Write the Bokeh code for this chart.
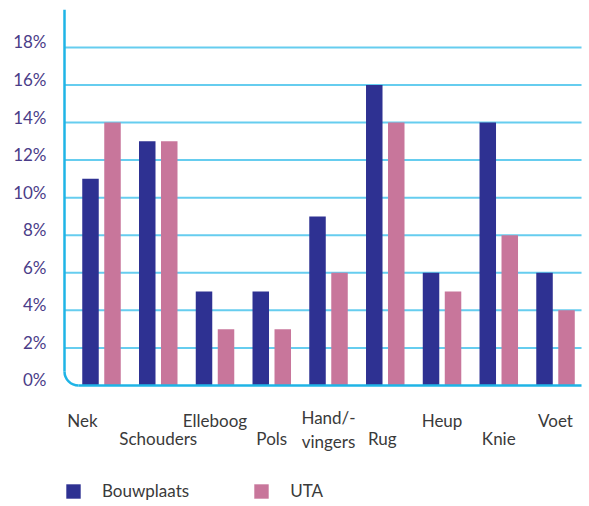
import math
from bokeh.plotting import figure
from bokeh.models import (ColumnDataSource, Range1d, FixedTicker, Legend, LegendItem,
                          CustomJSTickFormatter)
from bokeh.core.properties import value
from bokeh.transform import dodge
from bokeh.embed import file_html
from bokeh.resources import INLINE

# ---- data ----
categories = ["Nek", "Schouders", "Elleboog", "Pols", "Hand/-\nvingers", "Rug", "Heup", "Knie", "Voet"]
bouwplaats = [11, 13, 5, 5, 9, 16, 6, 14, 6]
uta = [14, 13, 3, 3, 6, 14, 5, 8, 4]
y_ticks = [0, 2, 4, 6, 8, 10, 12, 14, 16, 18]
series_names = ["Bouwplaats", "UTA"]

BLUE = "#2e3192"
PINK = "#c8769b"
AXIS = "#1fb4e6"
GRID = "#66cdef"
TICK_TXT = "#4a3c88"
LBL_TXT = "#3a3a3a"
FONT = "Lato"

PX_X = 56.75   # pixels per category
PX_Y = 18.78   # pixels per percent

Y0, Y1 = -6.443, 20.07
p = figure(width=589, height=506, output_backend="svg", toolbar_location=None,
           x_range=Range1d(-0.7225, 8.493), y_range=Range1d(Y0, Y1),
           min_border_left=60, min_border_right=6, min_border_top=8, min_border_bottom=0,
           outline_line_color=None)
p.xaxis.visible = False
p.xgrid.visible = False
p.ygrid.visible = False

# tick labels sit slightly above their gridlines
lift = 5.5 / PX_Y
p.extra_y_ranges = {"lab": Range1d(Y0 - lift, Y1 - lift)}
ax = p.yaxis[0]
ax.y_range_name = "lab"
ax.ticker = FixedTicker(ticks=y_ticks)
ax.formatter = CustomJSTickFormatter(code="return tick + '%';")
ax.axis_line_color = None
ax.major_tick_line_color = None
ax.minor_tick_line_color = None
ax.major_tick_out = 0
ax.major_label_standoff = 14
ax.major_label_text_font = FONT
ax.major_label_text_font_size = "17px"
ax.major_label_text_color = TICK_TXT

x_idx = list(range(len(categories)))
x_ax = -37 / PX_X
x_end = 480 / PX_X

# gridlines
grid_y = [t for t in y_ticks if t > 0]
p.segment(x0=[x_ax] * len(grid_y), y0=grid_y, x1=[x_end] * len(grid_y), y1=grid_y,
          line_color=GRID, line_width=2)

# bars
src = ColumnDataSource(dict(x=x_idx, b=bouwplaats, u=uta))
off = 11 / PX_X
bw = 16.5 / PX_X
r1 = p.vbar(x=dodge("x", -off), top="b", bottom=0, width=bw, source=src,
            fill_color=BLUE, line_color=None)
r2 = p.vbar(x=dodge("x", off), top="u", bottom=0, width=bw, source=src,
            fill_color=PINK, line_color=None)

# axis with rounded corner
rad = 14
cx = x_ax + rad / PX_X
cy = rad / PX_Y
p.line([x_ax, x_ax], [20, cy], line_color=AXIS, line_width=2.5)
p.line([cx, x_end], [0, 0], line_color=AXIS, line_width=2.5)
p.arc(x=[cx], y=[cy], radius=rad, radius_units="screen", start_angle=math.pi,
      end_angle=1.5 * math.pi, direction="anticlock", line_color=AXIS, line_width=2.5)

# category labels (staggered rows)
row = [0, 1, 0, 1, 0, 1, 0, 1, 0]
y_off = []
for i, c in enumerate(categories):
    if "\n" in c:
        y_off.append(44)
    else:
        y_off.append(35 if row[i] == 0 else 53)
x_off = [-19, 0, 0, 0, 0, -3, 0, 0, 0]
lsrc = ColumnDataSource(dict(x=x_idx, y=[0] * len(categories), t=categories, yo=y_off, xo=x_off))
p.text(x="x", y="y", text="t", x_offset="xo", y_offset="yo", source=lsrc,
       text_align="center", text_baseline="middle", text_font=value(FONT),
       text_font_size="17px", text_color=LBL_TXT, text_line_height=1.1)

legend = Legend(items=[LegendItem(label=series_names[0], renderers=[r1]),
                       LegendItem(label=series_names[1], renderers=[r2])],
                orientation="horizontal", location=(4, 5), padding=0, margin=0,
                spacing=63, glyph_width=18, glyph_height=18, label_standoff=20,
                label_height=18, label_text_font=FONT, label_text_font_size="17px",
                label_text_color=LBL_TXT, border_line_color=None,
                background_fill_alpha=0)
p.add_layout(legend)

open("out.html", "w").write(file_html(p, INLINE))
